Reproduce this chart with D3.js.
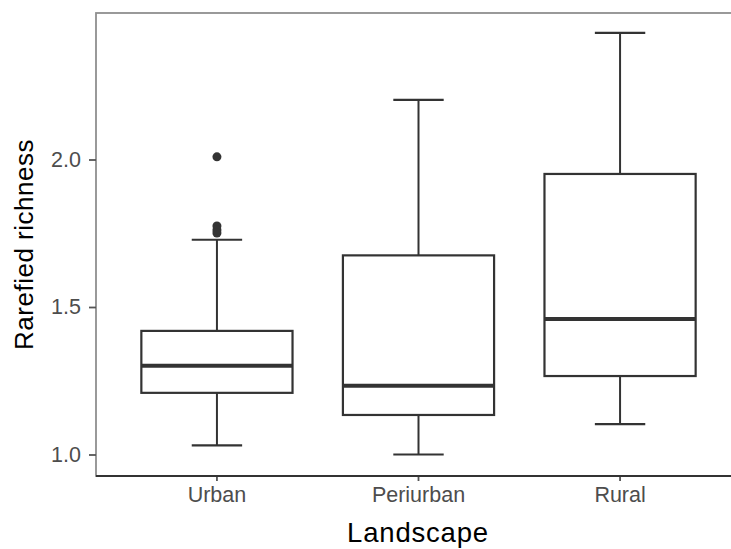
<!DOCTYPE html>
<html>
<head>
<meta charset="utf-8">
<script src="https://cdn.jsdelivr.net/npm/d3@7"></script>
<style>
  html, body { margin: 0; padding: 0; background: #fff; }
  svg { display: block; }
</style>
</head>
<body>
<svg id="chart" width="731" height="549"></svg>
<script>
// Landscape categories and boxplot summaries of rarefied richness
const categories = ["Urban", "Periurban", "Rural"];
const whiskerLow = [1.031, 1.000, 1.103];
const q1 = [1.209, 1.134, 1.266];
const median = [1.301, 1.233, 1.459];
const q3 = [1.419, 1.675, 1.951];
const whiskerHigh = [1.728, 2.202, 2.429];
// Outlying observations (category, value)
const outlierCategory = ["Urban", "Urban", "Urban", "Urban"];
const outlierValue = [2.009, 1.775, 1.761, 1.751];
const yTicks = [1.0, 1.5, 2.0];

const svg = d3.select("#chart");
const panel = { left: 96, top: 13, right: 741, bottom: 476 };
const font = "'Liberation Sans', Arial, sans-serif";

const x = d3.scaleBand()
  .domain(categories)
  .range([panel.left, panel.right])
  .paddingInner(0)
  .paddingOuter(0.1);

const y = d3.scaleLinear()
  .domain([1.0, 2.0])
  .range([454.5, 159.5]);

const ink = "#333333";
const boxes = categories.map((c, i) => ({
  cat: c, lo: whiskerLow[i], q1: q1[i], med: median[i], q3: q3[i], hi: whiskerHigh[i]
}));
const step = x.step();
const boxW = step * 0.75;
const capW = step * 0.25;
const cx = c => x(c) + x.bandwidth() / 2;

// panel frame (top + left visible, right edge runs past the canvas)
svg.append("rect")
  .attr("x", panel.left).attr("y", panel.top)
  .attr("width", panel.right - panel.left)
  .attr("height", panel.bottom - panel.top)
  .attr("fill", "none")
  .attr("stroke", "#8f8f8f")
  .attr("stroke-width", 1.8);

const g = svg.append("g");

// whisker stems
g.selectAll(".stem-hi").data(boxes).join("line")
  .attr("x1", d => cx(d.cat)).attr("x2", d => cx(d.cat))
  .attr("y1", d => y(d.q3)).attr("y2", d => y(d.hi))
  .attr("stroke", ink).attr("stroke-width", 2);
g.selectAll(".stem-lo").data(boxes).join("line")
  .attr("x1", d => cx(d.cat)).attr("x2", d => cx(d.cat))
  .attr("y1", d => y(d.q1)).attr("y2", d => y(d.lo))
  .attr("stroke", ink).attr("stroke-width", 2);

// whisker caps
["hi", "lo"].forEach(k => {
  g.selectAll(".cap-" + k).data(boxes).join("line")
    .attr("x1", d => cx(d.cat) - capW / 2).attr("x2", d => cx(d.cat) + capW / 2)
    .attr("y1", d => y(d[k])).attr("y2", d => y(d[k]))
    .attr("stroke", ink).attr("stroke-width", 2.2);
});

// boxes
g.selectAll(".box").data(boxes).join("rect")
  .attr("x", d => cx(d.cat) - boxW / 2)
  .attr("width", boxW)
  .attr("y", d => y(d.q3))
  .attr("height", d => y(d.q1) - y(d.q3))
  .attr("fill", "#ffffff")
  .attr("stroke", ink).attr("stroke-width", 2.2);

// medians
g.selectAll(".med").data(boxes).join("line")
  .attr("x1", d => cx(d.cat) - boxW / 2).attr("x2", d => cx(d.cat) + boxW / 2)
  .attr("y1", d => y(d.med)).attr("y2", d => y(d.med))
  .attr("stroke", ink).attr("stroke-width", 4);

// outliers
const outliers = outlierValue.map((v, i) => ({ cat: outlierCategory[i], v }));
g.selectAll(".out").data(outliers).join("circle")
  .attr("cx", d => cx(d.cat)).attr("cy", d => y(d.v))
  .attr("r", 4.5).attr("fill", ink);

// x axis
const xAxis = svg.append("g")
  .attr("transform", `translate(0,${panel.bottom})`)
  .call(d3.axisBottom(x).tickSize(5).tickPadding(6));
xAxis.select(".domain").remove();
xAxis.selectAll(".tick line").attr("stroke", "#555").attr("stroke-width", 1.8);
xAxis.selectAll(".tick text")
  .attr("fill", "#4d4d4d")
  .style("font-family", font)
  .style("font-size", "21.5px");
svg.append("line")
  .attr("x1", panel.left).attr("x2", panel.right)
  .attr("y1", panel.bottom).attr("y2", panel.bottom)
  .attr("stroke", ink).attr("stroke-width", 2);

// y axis
const yAxis = svg.append("g")
  .attr("transform", `translate(${panel.left},0)`)
  .call(d3.axisLeft(y).tickValues(yTicks).tickFormat(d3.format(".1f")).tickSize(7).tickPadding(8));
yAxis.select(".domain").remove();
yAxis.selectAll(".tick line").attr("stroke", "#555").attr("stroke-width", 1.8);
yAxis.selectAll(".tick text")
  .attr("fill", "#4d4d4d")
  .style("font-family", font)
  .style("font-size", "21.5px");

// axis titles
svg.append("text")
  .attr("x", (panel.left + 741) / 2 - 0.5)
  .attr("y", 542)
  .attr("text-anchor", "middle")
  .attr("fill", "#000")
  .style("font-family", font)
  .style("font-size", "27.5px")
  .style("letter-spacing", "0.8px")
  .text("Landscape");

svg.append("text")
  .attr("transform", `translate(33,${(panel.top + panel.bottom) / 2}) rotate(-90)`)
  .attr("text-anchor", "middle")
  .attr("fill", "#000")
  .style("font-family", font)
  .style("font-size", "26px")
  .style("letter-spacing", "0.5px")
  .text("Rarefied richness");
</script>
</body>
</html>
